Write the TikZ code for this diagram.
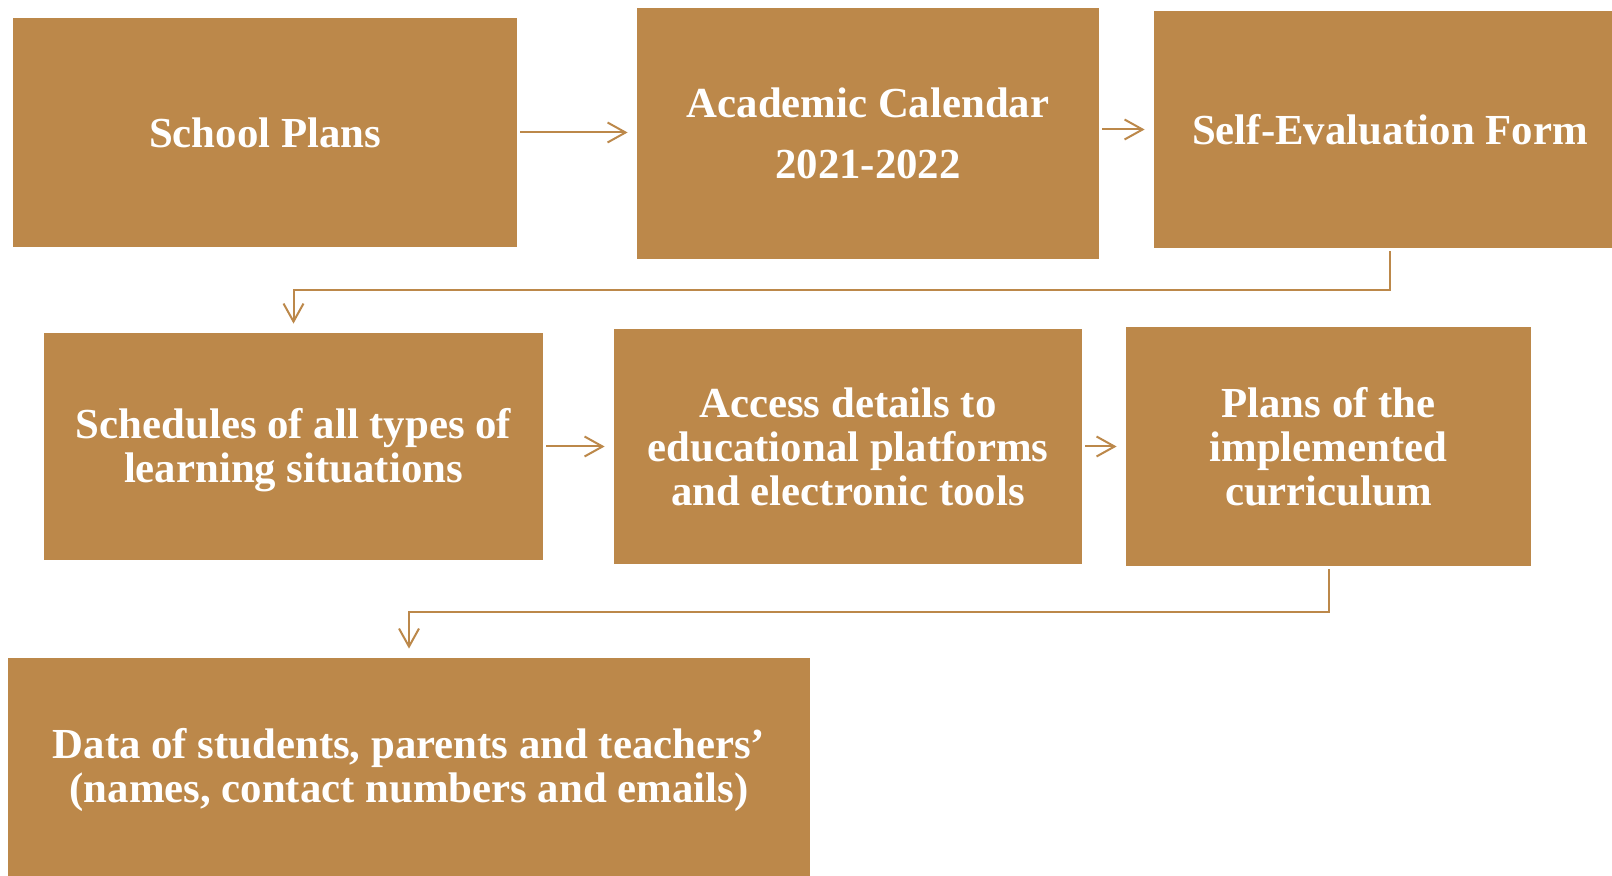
\documentclass[tikz,border=0pt]{standalone}
\usepackage{fontspec}
\setmainfont{Liberation Serif}
\usetikzlibrary{arrows.meta,positioning,calc}
\definecolor{boxbrown}{RGB}{188,136,74}
\tikzset{
  % Define standard arrow tip
  >={Straight Barb[length=9pt,width=10pt]},
  % Define style for boxes
  box/.style={
    rectangle,
    fill=boxbrown,
    text=white,
    inner sep=0pt,
    align=center,
    font=\fontsize{21.4pt}{22pt}\selectfont\bfseries},
  % Define arrow style
  arrow/.style={
    ->,
    draw=boxbrown,
    line width=1pt,
    shorten <=1.5pt,
    shorten >=4.5pt},
}

\begin{document}
\begin{tikzpicture}[x=0.5pt, y=-0.5pt]
  \useasboundingbox (0,0) rectangle (1612,876);
  % nodes
  \node[box, minimum width=252pt, minimum height=114.5pt] (school) at (265,132.5) {School Plans};
  \node[box, minimum width=231pt, minimum height=125.5pt] (acad) at (868,133.5)
    {Academic Calendar\\[8.5pt] 2021-2022};
  \node[box, minimum width=236pt, minimum height=118.5pt] (selfev) at (1390,129.5) {Self-Evaluation Form};
  \node[box, minimum width=249.5pt, minimum height=113.5pt, text depth=1pt] (sched) at (293.5,446.5)
    {Schedules of all types of\\ learning situations};
  \node[box, minimum width=234pt, minimum height=117.5pt] (access) at (848,446.5)
    {Access details to\\ educational platforms\\ and electronic tools};
  \node[box, minimum width=202.5pt, minimum height=119.5pt] (plans) at (1328.5,446.5)
    {Plans of the\\ implemented\\ curriculum};
  \node[box, minimum width=401pt, minimum height=112pt] (data) at (409,770)
    {Data of students, parents and teachers'\\ (names, contact numbers and emails)};
  % connectors
  \draw[arrow] (school.east) -- (school.east -| acad.west);
  \draw[arrow] (acad.east |- selfev.west) -- (selfev.west);
  \draw[arrow] (selfev.south) -- ++(0,42) -| (sched.north);
  \draw[arrow] (sched.east) -- (sched.east -| access.west);
  \draw[arrow] (access.east) -- (plans.west);
  \draw[arrow] (plans.south) -- ++(0,46) -| (data.north);
\end{tikzpicture}
\end{document}
